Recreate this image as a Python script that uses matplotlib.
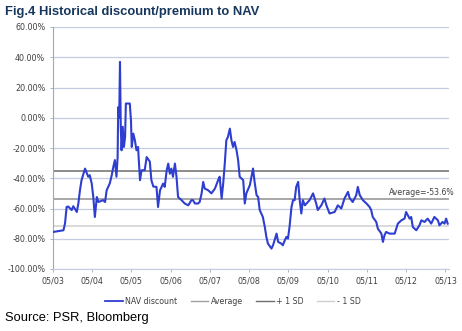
import matplotlib
matplotlib.use("Agg")
import matplotlib.pyplot as plt
from matplotlib.lines import Line2D

# ---- data (decimal years, NAV discount/premium in %) ----
dates = [2003.34, 2003.60, 2003.64, 2003.68, 2003.72, 2003.81, 2003.85, 2003.94, 2003.98, 2004.02,
         2004.06, 2004.15, 2004.23, 2004.27, 2004.32, 2004.36, 2004.40, 2004.45, 2004.49, 2004.61,
         2004.66, 2004.70, 2004.78, 2004.83, 2004.87, 2004.91, 2004.95, 2004.98, 2004.995, 2005.02,
         2005.04, 2005.06, 2005.08, 2005.11, 2005.14, 2005.17, 2005.19, 2005.29, 2005.32, 2005.34,
         2005.38, 2005.42, 2005.46, 2005.50, 2005.55, 2005.59, 2005.67, 2005.72, 2005.80, 2005.84,
         2005.89, 2005.97, 2006.01, 2006.06, 2006.14, 2006.18, 2006.23, 2006.27, 2006.31, 2006.35,
         2006.39, 2006.44, 2006.48, 2006.52, 2006.61, 2006.69, 2006.78, 2006.86, 2006.90, 2006.95,
         2007.03, 2007.07, 2007.12, 2007.16, 2007.20, 2007.29, 2007.37, 2007.46, 2007.54, 2007.58,
         2007.63, 2007.67, 2007.71, 2007.75, 2007.79, 2007.84, 2007.88, 2007.92, 2007.96, 2008.01,
         2008.05, 2008.09, 2008.18, 2008.22, 2008.26, 2008.35, 2008.39, 2008.43, 2008.47, 2008.52,
         2008.56, 2008.60, 2008.68, 2008.73, 2008.77, 2008.81, 2008.90, 2008.94, 2009.03, 2009.07,
         2009.15, 2009.19, 2009.24, 2009.28, 2009.32, 2009.36, 2009.41, 2009.45, 2009.49, 2009.53,
         2009.58, 2009.62, 2009.66, 2009.70, 2009.75, 2009.83, 2009.87, 2009.96, 2010.04, 2010.08,
         2010.17, 2010.25, 2010.30, 2010.38, 2010.51, 2010.59, 2010.68, 2010.76, 2010.85, 2010.89,
         2010.97, 2011.06, 2011.10, 2011.15, 2011.23, 2011.32, 2011.40, 2011.44, 2011.48, 2011.57,
         2011.61, 2011.70, 2011.74, 2011.78, 2011.82, 2011.91, 2012.04, 2012.08, 2012.12, 2012.21,
         2012.29, 2012.33, 2012.42, 2012.46, 2012.50, 2012.59, 2012.67, 2012.72, 2012.80, 2012.88,
         2012.97, 2013.05, 2013.14, 2013.18, 2013.26, 2013.31, 2013.35, 2013.39]
nav_discount = [-75.5, -74.4, -69.8, -59.0, -58.7, -61.0, -58.5, -62.3, -56.6, -48.0,
                -41.3, -33.6, -39.0, -38.0, -43.5, -52.4, -65.6, -52.4, -55.7, -54.5,
                -55.7, -48.0, -43.4, -38.0, -32.5, -28.0, -39.0, -26.0, 7.0, 0.0,
                36.9, -6.0, -21.5, -6.0, -19.3, -12.7, 9.4, 9.4, -1.7, -19.3,
                -10.5, -14.9, -21.5, -19.3, -41.3, -34.7, -34.7, -26.0, -29.0, -41.3,
                -45.5, -45.7, -59.0, -48.0, -43.5, -45.7, -34.7, -30.3, -37.0, -33.6,
                -39.0, -30.3, -39.0, -52.4, -54.5, -56.7, -57.9, -54.5, -54.5, -56.7,
                -56.7, -55.7, -50.0, -42.4, -46.8, -48.0, -50.0, -46.8, -41.3, -39.0,
                -53.4, -43.5, -30.3, -14.9, -12.7, -7.2, -14.9, -19.3, -16.0, -21.5,
                -28.0, -39.0, -41.3, -56.7, -50.0, -44.5, -39.0, -33.6, -42.4, -51.2,
                -52.4, -61.0, -65.6, -72.2, -78.8, -83.2, -86.5, -84.3, -76.6, -82.1,
                -83.2, -84.3, -81.0, -78.8, -79.9, -72.2, -59.0, -54.5, -54.5, -45.7,
                -42.4, -54.5, -63.3, -54.5, -57.9, -55.7, -54.5, -50.0, -56.7, -61.0,
                -57.9, -53.4, -57.9, -63.3, -62.3, -57.9, -60.0, -53.4, -49.0, -53.0,
                -55.7, -51.2, -45.7, -51.2, -54.5, -56.7, -59.0, -61.0, -65.6, -68.9,
                -73.3, -76.6, -82.1, -77.7, -75.5, -76.6, -76.6, -73.3, -70.0, -67.8,
                -66.7, -62.3, -66.7, -65.6, -72.2, -74.4, -71.1, -67.8, -68.9, -66.7,
                -70.0, -65.6, -67.8, -71.1, -68.9, -70.0, -66.7, -70.0]
average = -53.6
plus_1sd = -35.5
minus_1sd = -71.7
tick_dates = [2003 + 4/12 + i for i in range(11)]
tick_labels = ["05/03", "05/04", "05/05", "05/06", "05/07", "05/08",
               "05/09", "05/10", "05/11", "05/12", "05/13"]
yticks = [60, 40, 20, 0, -20, -40, -60, -80, -100]

# ---- figure ----
fig = plt.figure(figsize=(4.62, 3.31), dpi=100)
ax = fig.add_axes([53/462, 1 - 269/331, (449 - 53)/462, (269 - 27)/331])

grid_c = "#C3CCE0"
for y in yticks:
    ax.axhline(y, color=grid_c, lw=0.9, zorder=1)

x0, x1 = tick_dates[0], tick_dates[-1] + 0.09
ax.plot([x0, x1], [plus_1sd, plus_1sd], color="#6E6E6E", lw=1.1, zorder=2)
ax.plot([x0, x1], [average, average], color="#A0A0A0", lw=1.3, zorder=2)
ax.plot([x0, x1], [minus_1sd, minus_1sd], color="#CFCFCF", lw=1.1, zorder=2)
ax.plot(dates, nav_discount, color="#2E3ED0", lw=1.5, zorder=3)

ax.set_xlim(x0, x1)
ax.set_ylim(-100, 60)
ax.set_yticks(yticks)
ax.set_yticklabels([f"{v:.2f}%" for v in yticks])
ax.set_xticks(tick_dates)
ax.set_xticklabels(tick_labels)
ax.tick_params(axis="both", labelsize=5.8, colors="#404040", length=2.5, width=0.6,
               pad=3)
ax.tick_params(axis="y", color="#A0A8B8")
ax.tick_params(axis="x", color="#A0A8B8")
for s in ["top", "right"]:
    ax.spines[s].set_visible(False)
ax.spines["left"].set_color("#A0A8B8")
ax.spines["bottom"].set_color(grid_c)
ax.spines["left"].set_linewidth(0.8)
ax.set_facecolor("none")

ax.text(x1 + 0.15, average + 4.0, "Average=-53.6%", fontsize=5.6, color="#404040",
        ha="right", va="center", clip_on=False)

handles = [Line2D([], [], color="#2E3ED0", lw=1.3),
           Line2D([], [], color="#A0A0A0", lw=1.0),
           Line2D([], [], color="#6E6E6E", lw=1.0),
           Line2D([], [], color="#CFCFCF", lw=1.0)]
fig.legend(handles, ["NAV discount", "Average", "+ 1 SD", "- 1 SD"],
           loc="center", bbox_to_anchor=(233/462, 1 - 301/331), ncol=4,
           frameon=False, fontsize=5.7, handlelength=2.2, handletextpad=0.3,
           columnspacing=1.7, labelcolor="#404040")

fig.text(5/462, 1 - 12/331, "Fig.4 Historical discount/premium to NAV",
         fontsize=9.4, fontweight="bold", color="#17375E",
         family="Liberation Sans", ha="left", va="center")
fig.text(5/462, 1 - 318/331, "Source: PSR, Bloomberg", fontsize=9.3,
         color="#000000", family="Liberation Sans", ha="left", va="center")

fig.savefig("out.png", dpi=100)
